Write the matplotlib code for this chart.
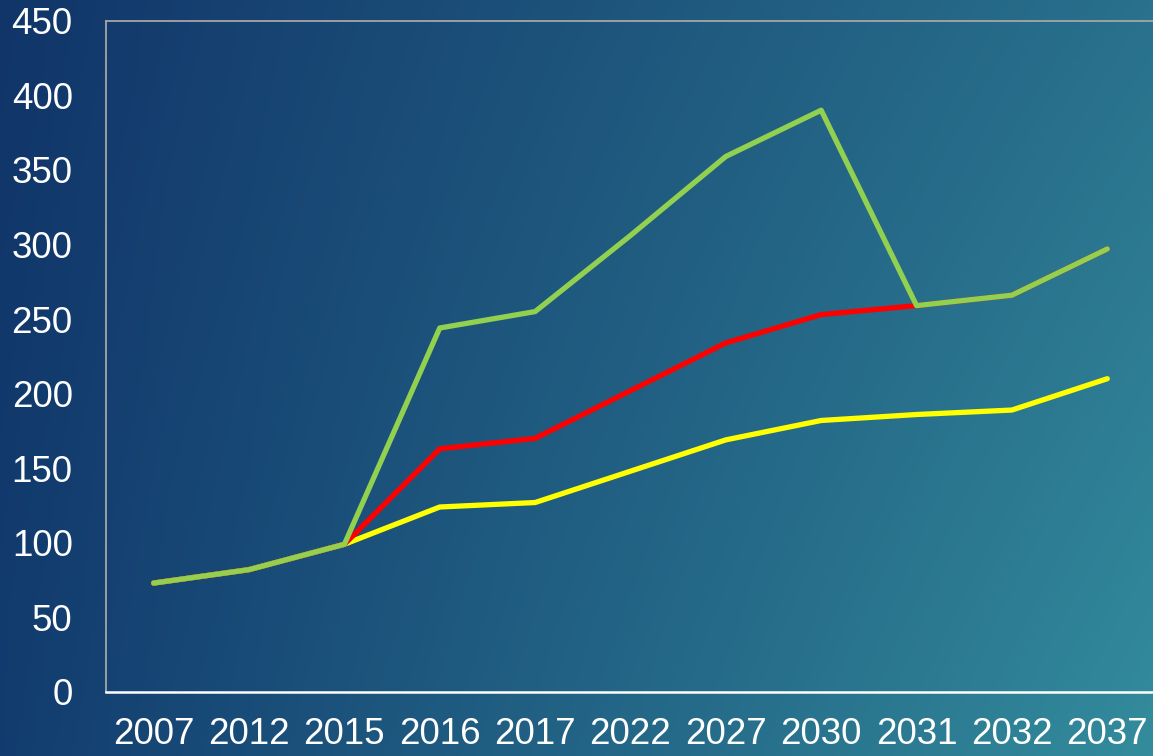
import matplotlib
matplotlib.use('Agg')
import matplotlib.pyplot as plt
import numpy as np
from matplotlib.colors import to_rgb

years = ['2007', '2012', '2015', '2016', '2017', '2022', '2027', '2030', '2031', '2032', '2037']
high_values = [73, 82, 99, 244, 255, 306, 359, 390, 259, 266, 297]
mid_values = [73, 82, 99, 163, 170, 202, 234, 253, 259, 266, 297]
low_values = [73, 82, 99, 124, 127, 148, 169, 182, 186, 189, 210]
y_ticks = [0, 50, 100, 150, 200, 250, 300, 350, 400, 450]

plt.rcParams['font.family'] = ['Liberation Sans', 'DejaVu Sans']

fig = plt.figure(figsize=(11.53, 7.56), dpi=100)

# background gradient (corner colours, bilinear)
tl, tr = np.array(to_rgb('#113569')), np.array(to_rgb('#29718d'))
bl, br = np.array(to_rgb('#123c6f')), np.array(to_rgb('#338c9c'))
gx = np.linspace(0, 1, 300)[None, :, None]
gy = np.linspace(0, 1, 200)[:, None, None]
grad = (1 - gy) * ((1 - gx) * tl + gx * tr) + gy * ((1 - gx) * bl + gx * br)
bg = fig.add_axes([0, 0, 1, 1], zorder=0)
bg.imshow(grad, aspect='auto', extent=[0, 1, 0, 1])
bg.axis('off')

ax = fig.add_axes([0.0919, 0.0847, 0.9098, 0.8879], zorder=1)
ax.patch.set_alpha(0)

x = np.arange(len(years))
ax.plot(x, low_values, color='#FFFF00', lw=3.8, solid_capstyle='round', solid_joinstyle='round')
ax.plot(x, mid_values, color='#FF0000', lw=3.8, solid_capstyle='round', solid_joinstyle='round')
ax.plot(x, high_values, color='#92D050', lw=3.8, solid_capstyle='round', solid_joinstyle='round')

ax.set_xlim(-0.5, len(years) - 0.5)
ax.set_ylim(0, 450)
ax.set_xticks(x)
ax.set_xticklabels(years)
ax.set_yticks(y_ticks)
ax.tick_params(axis='both', length=0, labelsize=26.5, labelcolor='white')
ax.tick_params(axis='y', pad=24)
ax.tick_params(axis='x', pad=18)

for side in ['left', 'top']:
    ax.spines[side].set_color('#a6a6a6')
    ax.spines[side].set_linewidth(1.3)
ax.spines['bottom'].set_color('white')
ax.spines['bottom'].set_linewidth(1.8)
ax.spines['right'].set_visible(False)

fig.savefig('out.png', dpi=100)
